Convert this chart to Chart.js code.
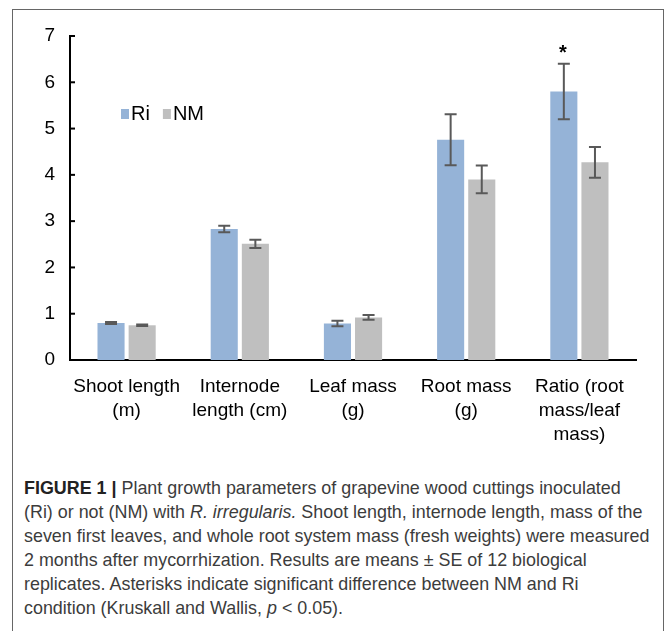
<!DOCTYPE html>
<html>
<head>
<meta charset="utf-8">
<script src="https://cdn.jsdelivr.net/npm/chart.js@4.4.1/dist/chart.umd.min.js"></script>
<style>
  html, body { margin: 0; padding: 0; background: #fff; }
  body { width: 667px; height: 631px; position: relative; overflow: hidden; font-family: "Liberation Sans", Arial, sans-serif; }
  #frame { position: absolute; left: 12px; top: 9px; width: 650px; height: 640px; border: 1.5px solid #666; border-bottom: none; }
  #wrap { position: absolute; left: 0; top: 0; width: 667px; height: 470px; }
  #caption { position: absolute; left: 24px; top: 476px; width: 640px; font-size: 17.9px; line-height: 24px; color: #3c3c3c; white-space: nowrap; }
  #caption b { color: #222; }
</style>
</head>
<body>
<div id="frame"></div>
<div id="wrap"><canvas id="growthChart"></canvas></div>
<div id="caption"><b>FIGURE 1 |</b> Plant growth parameters of grapevine wood cuttings inoculated<br>(Ri) or not (NM) with <i>R. irregularis.</i> Shoot length, internode length, mass of the<br>seven first leaves, and whole root system mass (fresh weights) were measured<br>2 months after mycorrhization. Results are means ± SE of 12 biological<br>replicates. Asterisks indicate significant difference between NM and Ri<br>condition (Kruskall and Wallis, <i>p</i> &lt; 0.05).</div>
<script>
const categories = [
    ["Shoot length", "(m)"],
    ["Internode", "length (cm)"],
    ["Leaf mass", "(g)"],
    ["Root mass", "(g)"],
    ["Ratio (root", "mass/leaf", "mass)"]
];
const riValues = [0.80, 2.83, 0.79, 4.76, 5.80];
const riErrors = [0.02, 0.07, 0.06, 0.55, 0.60];
const nmValues = [0.75, 2.51, 0.92, 3.90, 4.27];
const nmErrors = [0.015, 0.09, 0.05, 0.30, 0.33];
const riSignificant = [false, false, false, false, true];
const yTicks = [0, 1, 2, 3, 4, 5, 6, 7];

// error bars, inner ticks, legend and asterisks
const extras = {
    id: "extras",
    afterDatasetsDraw(chart) {
        const ctx = chart.ctx;
        const y = chart.scales.y;
        const area = chart.chartArea;
        const errs = [riErrors, nmErrors];
        ctx.save();
        ctx.strokeStyle = "#595959";
        ctx.lineWidth = 2;
        chart.data.datasets.forEach((ds, i) => {
            chart.getDatasetMeta(i).data.forEach((bar, j) => {
                const top = y.getPixelForValue(ds.data[j] + errs[i][j]);
                const bot = y.getPixelForValue(ds.data[j] - errs[i][j]);
                ctx.beginPath();
                ctx.moveTo(bar.x, top); ctx.lineTo(bar.x, bot);
                ctx.moveTo(bar.x - 6, top); ctx.lineTo(bar.x + 6, top);
                ctx.moveTo(bar.x - 6, bot); ctx.lineTo(bar.x + 6, bot);
                ctx.stroke();
                if (i === 0 && riSignificant[j]) {
                    ctx.fillStyle = "#000";
                    ctx.font = "bold 20px 'Liberation Sans'";
                    ctx.textAlign = "center";
                    ctx.textBaseline = "middle";
                    ctx.fillText("*", bar.x - 1, top - 10);
                }
            });
        });
        // inner y ticks
        ctx.strokeStyle = "#000";
        ctx.lineWidth = 2;
        yTicks.forEach(v => {
            const py = y.getPixelForValue(v);
            ctx.beginPath();
            ctx.moveTo(area.left, py); ctx.lineTo(area.left + 5, py);
            ctx.stroke();
        });
        // legend
        ctx.font = "20px 'Liberation Sans'";
        ctx.textAlign = "left";
        ctx.textBaseline = "middle";
        let lx = area.left + 51;
        const ly = 114;
        chart.data.datasets.forEach(ds => {
            ctx.fillStyle = ds.backgroundColor;
            ctx.fillRect(lx, ly - 5, 8, 10);
            ctx.fillStyle = "#000";
            ctx.fillText(ds.label, lx + 10, ly);
            lx += 10 + ctx.measureText(ds.label).width + 13;
        });
        ctx.restore();
    }
};

new Chart(document.getElementById("growthChart"), {
    type: "bar",
    data: {
        labels: categories,
        datasets: [
            { label: "Ri", data: riValues, backgroundColor: "#95B3D7" },
            { label: "NM", data: nmValues, backgroundColor: "#BFBFBF" }
        ]
    },
    options: {
        responsive: true,
        maintainAspectRatio: false,
        animation: false,
        datasets: { bar: { categoryPercentage: 0.55, barPercentage: 0.87 } },
        layout: { padding: { left: 0, right: 31, top: 36, bottom: 0 } },
        plugins: { legend: { display: false }, tooltip: { enabled: false } },
        scales: {
            x: {
                grid: { display: false },
                border: { display: true, color: "#000", width: 2 },
                ticks: {
                    color: "#000",
                    font: { family: "Liberation Sans", size: 19, lineHeight: 1.25 },
                    padding: 7,
                    maxRotation: 0,
                    autoSkip: false
                },
                afterFit(scale) { scale.height = 110; }
            },
            y: {
                min: 0,
                max: 7,
                grid: { display: false },
                border: { display: true, color: "#000", width: 2 },
                ticks: {
                    stepSize: 1,
                    color: "#000",
                    font: { family: "Liberation Sans", size: 19 },
                    padding: 7
                },
                afterFit(scale) { scale.width = 70; }
            }
        }
    },
    plugins: [extras]
});
</script>
</body>
</html>
